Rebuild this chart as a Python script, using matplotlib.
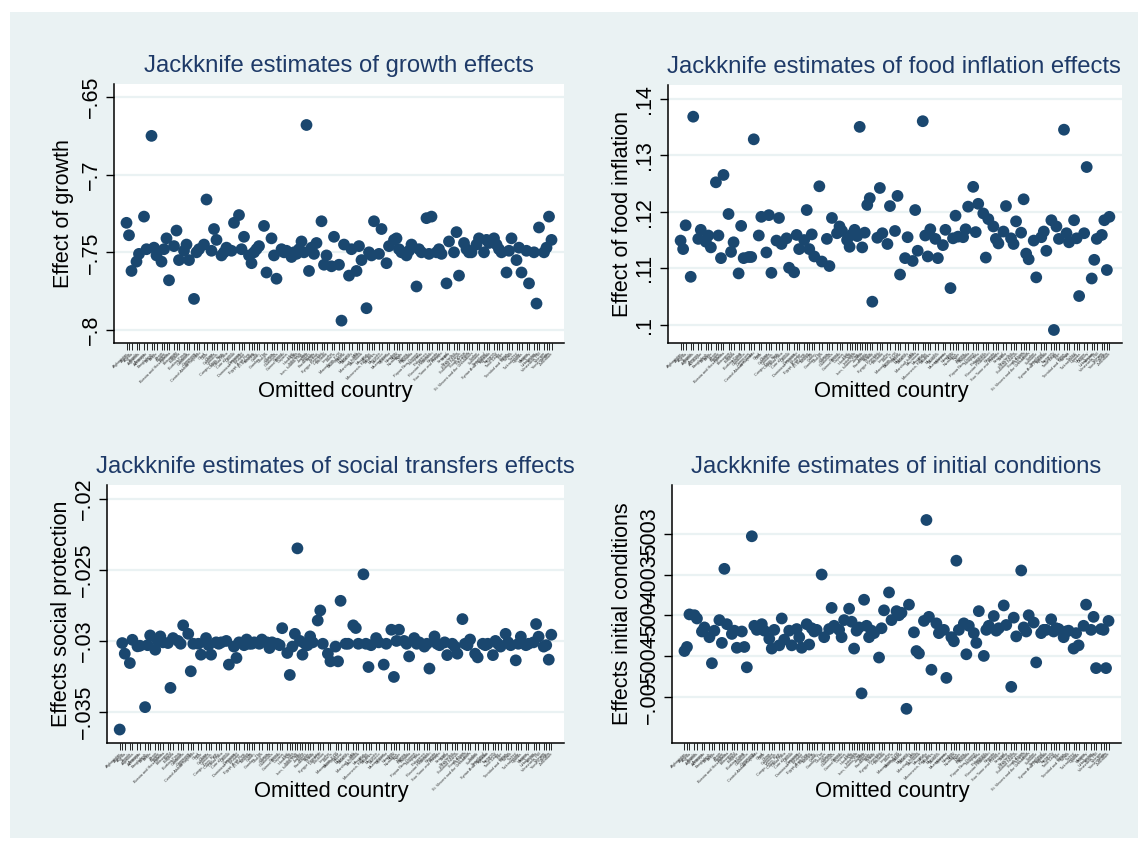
import matplotlib
matplotlib.use("Agg")
import matplotlib.pyplot as plt
from matplotlib.patches import Rectangle
from matplotlib.ticker import FuncFormatter, FixedLocator

plt.rcParams["font.family"] = ["Liberation Sans", "DejaVu Sans"]

# === data: omitted country, id with gaps ===
countries = [
    "Afghanistan", "Albania", "Algeria", "Angola", "Argentina", "Armenia", "Azerbaijan",
    "Bangladesh", "Belarus", "Belize", "Benin", "Bhutan", "Bolivia", "Bosnia and Herzegovina",
    "Botswana", "Brazil", "Bulgaria", "Burkina Faso", "Burundi", "Cambodia", "Cameroon",
    "Cape Verde", "Central African Republic", "Chad", "Chile", "China", "Colombia", "Comoros",
    "Congo, Dem. Rep.", "Congo, Rep.", "Costa Rica", "Cote d'Ivoire", "Djibouti", "Dominica",
    "Dominican Republic", "Ecuador", "Egypt, Arab Rep.", "El Salvador", "Ethiopia", "Fiji",
    "Gabon", "Gambia, The", "Georgia", "Ghana", "Grenada", "Guatemala", "Guinea",
    "Guinea-Bissau", "Guyana", "Haiti", "Honduras", "India", "Indonesia", "Iran, Islamic Rep.",
    "Iraq", "Jamaica", "Jordan", "Kazakhstan", "Kenya", "Kiribati", "Kyrgyz Republic",
    "Lao PDR", "Lebanon", "Lesotho", "Liberia", "Macedonia, FYR", "Madagascar", "Malawi",
    "Malaysia", "Maldives", "Mali", "Marshall Islands", "Mauritania", "Mauritius", "Mexico",
    "Micronesia, Fed. Sts.", "Moldova", "Mongolia", "Morocco", "Mozambique", "Myanmar",
    "Namibia", "Nepal", "Nicaragua", "Niger", "Nigeria", "Pakistan", "Panama",
    "Papua New Guinea", "Paraguay", "Peru", "Philippines", "Romania", "Russian Federation",
    "Rwanda", "Samoa", "Sao Tome and Principe", "Senegal", "Serbia", "Seychelles",
    "Sierra Leone", "Solomon Islands", "South Africa", "Sri Lanka", "St. Lucia",
    "St. Vincent and the Grenadines", "Sudan", "Suriname", "Swaziland", "Syrian Arab Republic",
    "Tajikistan", "Tanzania", "Thailand", "Timor-Leste", "Togo", "Tonga",
    "Trinidad and Tobago", "Tunisia", "Turkey", "Turkmenistan", "Uganda", "Ukraine",
    "Uruguay", "Uzbekistan", "Vanuatu", "Venezuela, RB", "Vietnam", "Yemen, Rep.",
    "Zambia", "Zimbabwe",
]
missing_ids = [4, 7, 10, 14, 19, 23, 27, 31, 34, 38, 42, 45, 49, 55, 58, 62, 66, 78, 82, 85,
               89, 92, 96, 101, 104, 107, 112, 116, 120, 124, 128, 131, 135, 140, 143, 147,
               152, 156, 160, 163, 167]
country_id = [i for i in range(1, 172) if i not in missing_ids]

growth = [
    -0.731, -0.739, -0.762, -0.756, -0.751, -0.727, -0.748, -0.675, -0.747, -0.752,
    -0.756, -0.748, -0.741, -0.768, -0.746, -0.736, -0.755, -0.749, -0.745, -0.755,
    -0.780, -0.750, -0.748, -0.745, -0.716, -0.749, -0.735, -0.742, -0.752, -0.750,
    -0.747, -0.749, -0.731, -0.726, -0.748, -0.740, -0.752, -0.757, -0.750, -0.748,
    -0.746, -0.733, -0.763, -0.741, -0.752, -0.767, -0.748, -0.750, -0.749, -0.753,
    -0.750, -0.751, -0.748, -0.743, -0.750, -0.668, -0.762, -0.747, -0.751, -0.744,
    -0.730, -0.758, -0.752, -0.759, -0.740, -0.758, -0.794, -0.745, -0.765, -0.748,
    -0.762, -0.746, -0.755, -0.786, -0.750, -0.752, -0.730, -0.751, -0.735, -0.757,
    -0.746, -0.742, -0.741, -0.748, -0.750, -0.752, -0.749, -0.745, -0.772, -0.748,
    -0.750, -0.728, -0.751, -0.727, -0.750, -0.748, -0.751, -0.770, -0.743, -0.750,
    -0.737, -0.765, -0.744, -0.748, -0.750, -0.750, -0.745, -0.741, -0.750, -0.742,
    -0.744, -0.741, -0.745, -0.748, -0.750, -0.763, -0.749, -0.741, -0.755, -0.747,
    -0.763, -0.749, -0.770, -0.750, -0.783, -0.734, -0.750, -0.747, -0.727, -0.742,
]

food_inflation = [
    .1149, .1134, .1176, .1085, .1368, .1152, .1168, .1147, .1158, .1137,
    .1252, .1158, .1118, .1265, .1196, .1129, .1146, .1091, .1175, .1118,
    .1120, .1120, .1328, .1158, .1191, .1128, .1194, .1092, .1149, .1189,
    .1143, .1153, .1101, .1093, .1159, .1134, .1150, .1203, .1134, .1160,
    .1121, .1245, .1112, .1152, .1104, .1189, .1162, .1174, .1166, .1150,
    .1138, .1160, .1168, .1157, .1350, .1137, .1163, .1212, .1224, .1041,
    .1154, .1242, .1162, .1143, .1210, .1166, .1228, .1089, .1118, .1155,
    .1113, .1203, .1131, .1360, .1158, .1121, .1169, .1152, .1118, .1141,
    .1168, .1065, .1153, .1193, .1156, .1155, .1169, .1209, .1244, .1164,
    .1214, .1197, .1119, .1187, .1174, .1152, .1144, .1165, .1210, .1153,
    .1143, .1183, .1163, .1222, .1126, .1116, .1149, .1084, .1155, .1165,
    .1131, .1185, .0991, .1174, .1152, .1345, .1162, .1146, .1185, .1153,
    .1051, .1162, .1279, .1082, .1115, .1152, .1159, .1185, .1097, .1191,
]

social_transfers = [
    -0.03625, -0.03015, -0.0309, -0.03156, -0.02992, -0.03038, -0.03034, -0.03467, -0.0303, -0.02961,
    -0.03062, -0.0300, -0.02968, -0.0301, -0.03015, -0.03331, -0.0298, -0.0300, -0.0302, -0.0289,
    -0.0295, -0.03214, -0.0302, -0.0302, -0.03097, -0.0298, -0.0303, -0.03097, -0.0301, -0.0302,
    -0.0301, -0.0300, -0.03167, -0.0304, -0.0312, -0.0301, -0.0303, -0.0299, -0.0302, -0.0302,
    -0.0301, -0.0302, -0.0299, -0.0301, -0.0305, -0.0301, -0.0302, -0.0303, -0.0291, -0.03085,
    -0.0324, -0.0304, -0.0295, -0.02347, -0.0300, -0.03097, -0.0302, -0.0303, -0.02968, -0.0301,
    -0.02856, -0.02785, -0.0302, -0.0309, -0.03144, -0.0304, -0.03144, -0.02717, -0.0302, -0.0302,
    -0.0289, -0.02909, -0.0302, -0.0253, -0.0302, -0.03184, -0.0303, -0.0298, -0.0301, -0.03167,
    -0.0302, -0.02921, -0.03254, -0.0300, -0.02921, -0.0300, -0.0302, -0.03109, -0.0298, -0.0302,
    -0.0301, -0.0304, -0.0302, -0.03195, -0.02968, -0.0302, -0.0303, -0.0301, -0.0310, -0.0302,
    -0.0304, -0.0309, -0.02846, -0.0302, -0.0303, -0.0299, -0.0309, -0.03116, -0.0302, -0.0303,
    -0.0302, -0.0310, -0.0300, -0.0302, -0.0304, -0.0295, -0.0301, -0.0303, -0.03137, -0.0302,
    -0.0297, -0.0303, -0.0302, -0.0301, -0.02881, -0.0297, -0.0304, -0.0303, -0.03132, -0.02956,
]

initial_conditions = [
    -0.00444, -0.00439, -0.00399, -0.00400, -0.00404, -0.00420, -0.00415, -0.00427, -0.00459, -0.00419,
    -0.00406, -0.00434, -0.00343, -0.00411, -0.00423, -0.00419, -0.00440, -0.00420, -0.00439, -0.00464,
    -0.00303, -0.00413, -0.00418, -0.00411, -0.00419, -0.00429, -0.00441, -0.00418, -0.00437, -0.00404,
    -0.00430, -0.00419, -0.00437, -0.00417, -0.00427, -0.00440, -0.00411, -0.00436, -0.00416, -0.00420,
    -0.00418, -0.00350, -0.00427, -0.00417, -0.00391, -0.00413, -0.00418, -0.00427, -0.00406, -0.00392,
    -0.00408, -0.00441, -0.00419, -0.00415, -0.00496, -0.00381, -0.00413, -0.00427, -0.00419, -0.00422,
    -0.00452, -0.00416, -0.00394, -0.00372, -0.00406, -0.00395, -0.00400, -0.00397, -0.00515, -0.00387,
    -0.00421, -0.00444, -0.00447, -0.00407, -0.00283, -0.00402, -0.00467, -0.00410, -0.00422, -0.00418,
    -0.00477, -0.00427, -0.00432, -0.00333, -0.00418, -0.00410, -0.00448, -0.00413, -0.00422, -0.00434,
    -0.00395, -0.00450, -0.00418, -0.00413, -0.00401, -0.00419, -0.00416, -0.00388, -0.00412, -0.00488,
    -0.00403, -0.00426, -0.00345, -0.00415, -0.00420, -0.00400, -0.00409, -0.00458, -0.00422, -0.00418,
    -0.00418, -0.00405, -0.00420, -0.00416, -0.00417, -0.00427, -0.00420, -0.00419, -0.00441, -0.00422,
    -0.00437, -0.00413, -0.00387, -0.00418, -0.00402, -0.00465, -0.00417, -0.00418, -0.00465, -0.00407,
]

growth_ticks = [-0.8, -0.75, -0.7, -0.65]
food_ticks = [0.10, 0.11, 0.12, 0.13, 0.14]
social_ticks = [-0.035, -0.03, -0.025, -0.02]
initial_ticks = [-0.005, -0.0045, -0.004, -0.0035, -0.003]

# === style ===
W, H = 1148, 842
BG = "#EAF2F3"
NAVY = "#1a476f"
TITLE_C = "#1e3a68"

def stata_fmt(v, pos):
    s = f"{v:.4f}".rstrip("0").rstrip(".")
    s = s.replace("0.", ".", 1)
    return s.replace("-", "\u2212")

fig = plt.figure(figsize=(W / 100, H / 100), dpi=100, facecolor="white")
fig.patches.append(Rectangle((10 / W, 1 - 838 / H), 1128 / W, 826 / H,
                             transform=fig.transFigure, facecolor=BG, edgecolor="none", zorder=-5))

# (title, ylabel, values, ticks, ylim, box l/r/t/b px, title x, ylabel x)
panels = [
    ("Jackknife estimates of growth effects", "Effect of growth", growth, growth_ticks,
     (-0.8084, -0.6416), (114, 564, 84, 343), 339, 63),
    ("Jackknife estimates of food inflation effects", "Effect of food inflation", food_inflation,
     food_ticks, (0.0968, 0.1424), (668, 1122, 85, 343), 894, 622),
    ("Jackknife estimates of social transfers effects", "Effects social protection",
     social_transfers, social_ticks, (-0.0372, -0.0190), (107, 564, 485, 743), 335, 62),
    ("Jackknife estimates of initial conditions", "Effects initial conditions",
     initial_conditions, initial_ticks, (-0.00557, -0.0024), (672, 1121, 485, 743), 896, 622),
]

for title, ylabel, vals, ticks, ylim, box, tx, lx in panels:
    l, r, t, b = box
    ax = fig.add_axes([l / W, 1 - b / H, (r - l) / W, (b - t) / H])
    ax.set_facecolor("white")
    for yt in ticks:
        ax.axhline(yt, color=BG, lw=1.6, zorder=1)
    ax.scatter(country_id, vals, s=72, color=NAVY, edgecolors="none", zorder=3, clip_on=False)
    ax.set_xlim(-4, 176)
    ax.set_ylim(*ylim)
    ax.yaxis.set_major_locator(FixedLocator(ticks))
    ax.yaxis.set_major_formatter(FuncFormatter(stata_fmt))
    ax.tick_params(axis="y", labelsize=15.5, length=6, width=1, pad=3, labelrotation=90)
    for lab in ax.get_yticklabels():
        lab.set_va("center")
    ax.set_xticks(country_id)
    ax.set_xticklabels(countries, fontsize=2.8, rotation=45, ha="right", rotation_mode="anchor",
                       color="#333333")
    ax.tick_params(axis="x", length=5, width=0.6, pad=1)
    for side in ["top", "right"]:
        ax.spines[side].set_visible(False)
    for side in ["left", "bottom"]:
        ax.spines[side].set_linewidth(1.1)
    fig.text(tx / W, 1 - (t - 18) / H, title, ha="center", va="center", fontsize=17.2, color=TITLE_C)
    fig.text(lx / W, 1 - (t + b) / 2 / H, ylabel, ha="center", va="center", rotation=90, fontsize=15.5)
    fig.text(((l + r) / 2 - 4) / W, 1 - (b + 48) / H, "Omitted country", ha="center", va="center", fontsize=15.8)

fig.savefig("out.png", dpi=100, facecolor="white")
